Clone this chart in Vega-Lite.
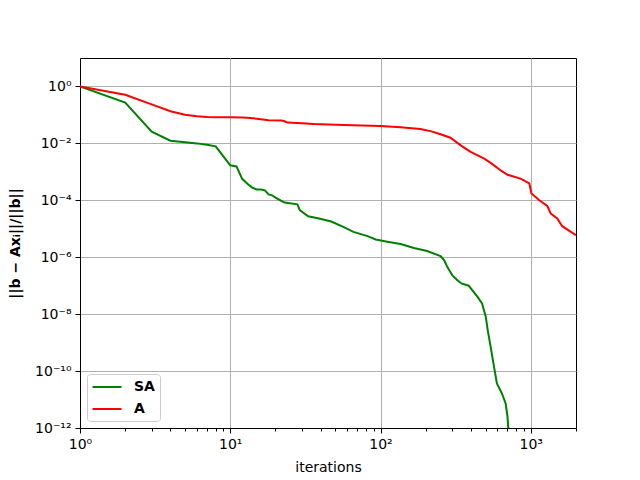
{
  "$schema": "https://vega.github.io/schema/vega-lite/v6.json",
  "width": 496,
  "height": 370,
  "autosize": {"type": "none"},
  "padding": {"left": 80, "top": 58, "right": 64, "bottom": 52},
  "background": "white",
  "config": {
    "font": "DejaVu Sans",
    "view": {"stroke": "black", "strokeWidth": 1},
    "axis": {
      "domainColor": "black",
      "tickColor": "black",
      "gridColor": "#b0b0b0",
      "gridWidth": 1,
      "labelFont": "DejaVu Sans",
      "labelFontSize": 14,
      "labelColor": "black",
      "titleFont": "DejaVu Sans",
      "titleFontSize": 14,
      "titleColor": "black",
      "titleFontWeight": "normal",
      "labelPadding": 4
    }
  },
  "data": {
    "values": [
      {"it": 1, "r": 1, "series": "SA"},
      {"it": 2, "r": 0.27, "series": "SA"},
      {"it": 3, "r": 0.026, "series": "SA"},
      {"it": 4, "r": 0.0124, "series": "SA"},
      {"it": 5, "r": 0.011, "series": "SA"},
      {"it": 6, "r": 0.01, "series": "SA"},
      {"it": 7, "r": 0.0089, "series": "SA"},
      {"it": 8, "r": 0.0079, "series": "SA"},
      {"it": 9, "r": 0.0035, "series": "SA"},
      {"it": 10, "r": 0.0017, "series": "SA"},
      {"it": 11, "r": 0.00155, "series": "SA"},
      {"it": 12, "r": 0.00057, "series": "SA"},
      {"it": 13, "r": 0.00038, "series": "SA"},
      {"it": 14, "r": 0.00028, "series": "SA"},
      {"it": 15, "r": 0.00024, "series": "SA"},
      {"it": 16, "r": 0.00024, "series": "SA"},
      {"it": 17, "r": 0.000224, "series": "SA"},
      {"it": 18, "r": 0.000162, "series": "SA"},
      {"it": 19, "r": 0.00015, "series": "SA"},
      {"it": 20, "r": 0.000124, "series": "SA"},
      {"it": 21, "r": 0.000107, "series": "SA"},
      {"it": 22, "r": 0.000093, "series": "SA"},
      {"it": 23, "r": 0.000083, "series": "SA"},
      {"it": 28, "r": 0.000072, "series": "SA"},
      {"it": 29, "r": 0.000045, "series": "SA"},
      {"it": 33, "r": 0.0000275, "series": "SA"},
      {"it": 39, "r": 0.000023, "series": "SA"},
      {"it": 47, "r": 0.000018, "series": "SA"},
      {"it": 57, "r": 0.0000115, "series": "SA"},
      {"it": 66, "r": 0.0000078, "series": "SA"},
      {"it": 82, "r": 0.0000055, "series": "SA"},
      {"it": 93, "r": 0.0000042, "series": "SA"},
      {"it": 111, "r": 0.0000035, "series": "SA"},
      {"it": 136, "r": 0.0000029, "series": "SA"},
      {"it": 167, "r": 0.0000021, "series": "SA"},
      {"it": 204, "r": 0.00000166, "series": "SA"},
      {"it": 251, "r": 0.0000011, "series": "SA"},
      {"it": 265, "r": 0.0000008, "series": "SA"},
      {"it": 278, "r": 0.00000046, "series": "SA"},
      {"it": 301, "r": 0.00000023, "series": "SA"},
      {"it": 325, "r": 0.000000155, "series": "SA"},
      {"it": 345, "r": 0.00000012, "series": "SA"},
      {"it": 386, "r": 0.0000001, "series": "SA"},
      {"it": 441, "r": 0.000000041, "series": "SA"},
      {"it": 474, "r": 0.000000024, "series": "SA"},
      {"it": 490, "r": 0.0000000126, "series": "SA"},
      {"it": 502, "r": 0.0000000081, "series": "SA"},
      {"it": 517, "r": 0.00000000275, "series": "SA"},
      {"it": 550, "r": 0.00000000042, "series": "SA"},
      {"it": 595, "r": 0.000000000037, "series": "SA"},
      {"it": 642, "r": 0.0000000000166, "series": "SA"},
      {"it": 681, "r": 0.0000000000071, "series": "SA"},
      {"it": 700, "r": 0.0000000000025, "series": "SA"},
      {"it": 708, "r": 0.0000000000011, "series": "SA"},
      {"it": 715, "r": 0.0000000000003, "series": "SA"},
      {"it": 1, "r": 1, "series": "A"},
      {"it": 2, "r": 0.51, "series": "A"},
      {"it": 3, "r": 0.234, "series": "A"},
      {"it": 4, "r": 0.135, "series": "A"},
      {"it": 5, "r": 0.102, "series": "A"},
      {"it": 6, "r": 0.089, "series": "A"},
      {"it": 7, "r": 0.085, "series": "A"},
      {"it": 8, "r": 0.083, "series": "A"},
      {"it": 10, "r": 0.083, "series": "A"},
      {"it": 12, "r": 0.081, "series": "A"},
      {"it": 13, "r": 0.079, "series": "A"},
      {"it": 15, "r": 0.074, "series": "A"},
      {"it": 18, "r": 0.065, "series": "A"},
      {"it": 22, "r": 0.064, "series": "A"},
      {"it": 23, "r": 0.06, "series": "A"},
      {"it": 24, "r": 0.054, "series": "A"},
      {"it": 30, "r": 0.051, "series": "A"},
      {"it": 36, "r": 0.048, "series": "A"},
      {"it": 57, "r": 0.044, "series": "A"},
      {"it": 100, "r": 0.041, "series": "A"},
      {"it": 136, "r": 0.037, "series": "A"},
      {"it": 184, "r": 0.032, "series": "A"},
      {"it": 215, "r": 0.027, "series": "A"},
      {"it": 251, "r": 0.021, "series": "A"},
      {"it": 292, "r": 0.0158, "series": "A"},
      {"it": 342, "r": 0.0085, "series": "A"},
      {"it": 398, "r": 0.005, "series": "A"},
      {"it": 490, "r": 0.0029, "series": "A"},
      {"it": 550, "r": 0.00195, "series": "A"},
      {"it": 631, "r": 0.00112, "series": "A"},
      {"it": 700, "r": 0.00079, "series": "A"},
      {"it": 855, "r": 0.00058, "series": "A"},
      {"it": 978, "r": 0.00039, "series": "A"},
      {"it": 1011, "r": 0.000174, "series": "A"},
      {"it": 1140, "r": 0.0001, "series": "A"},
      {"it": 1288, "r": 0.000063, "series": "A"},
      {"it": 1360, "r": 0.000034, "series": "A"},
      {"it": 1500, "r": 0.000023, "series": "A"},
      {"it": 1620, "r": 0.0000123, "series": "A"},
      {"it": 1850, "r": 0.0000078, "series": "A"},
      {"it": 2000, "r": 0.0000059, "series": "A"}
    ]
  },
  "mark": {"type": "line", "strokeWidth": 2, "clip": true},
  "encoding": {
    "x": {
      "field": "it",
      "type": "quantitative",
      "scale": {"type": "log", "domain": [1, 2000], "nice": false},
      "axis": {
        "title": "iterations",
        "titleY": 32,
        "titleBaseline": "top",
        "values": [1, 2, 3, 4, 5, 6, 7, 8, 9, 10, 20, 30, 40, 50, 60, 70, 80, 90, 100, 200, 300, 400, 500, 600, 700, 800, 900, 1000, 2000],
        "labelExpr": "datum.value == 1 ? '10⁰' : datum.value == 10 ? '10¹' : datum.value == 100 ? '10²' : datum.value == 1000 ? '10³' : ''",
        "labelOverlap": false,
        "labelFlush": false,
        "tickSize": {"condition": {"test": "datum.value == 1 || datum.value == 10 || datum.value == 100 || datum.value == 1000", "value": 5}, "value": 3},
        "gridOpacity": {"condition": {"test": "datum.value == 1 || datum.value == 10 || datum.value == 100 || datum.value == 1000", "value": 1}, "value": 0}
      }
    },
    "y": {
      "field": "r",
      "type": "quantitative",
      "scale": {"type": "log", "domain": [1e-12, 10], "nice": false},
      "axis": {
        "title": "||b − Axᵢ||/||b||",
        "titleFontWeight": "bold",
        "titleX": -65,
        "titleY": 185,
        "titleAngle": -90,
        "titleAlign": "center",
        "titleBaseline": "middle",
        "values": [1e-12, 1e-10, 1e-8, 1e-6, 1e-4, 1e-2, 1],
        "labelExpr": "round(log(datum.value)/LN10) == 0 ? '10⁰' : round(log(datum.value)/LN10) == -2 ? '10⁻²' : round(log(datum.value)/LN10) == -4 ? '10⁻⁴' : round(log(datum.value)/LN10) == -6 ? '10⁻⁶' : round(log(datum.value)/LN10) == -8 ? '10⁻⁸' : round(log(datum.value)/LN10) == -10 ? '10⁻¹⁰' : round(log(datum.value)/LN10) == -12 ? '10⁻¹²' : ''",
        "labelOverlap": false,
        "labelFlush": false,
        "tickSize": 5
      }
    },
    "color": {
      "field": "series",
      "type": "nominal",
      "sort": ["SA", "A"],
      "scale": {"domain": ["SA", "A"], "range": ["green", "red"]},
      "legend": {
        "title": null,
        "orient": "none",
        "legendX": 7,
        "legendY": 316,
        "fillColor": "white",
        "strokeColor": "#cccccc",
        "cornerRadius": 3,
        "padding": 5,
        "labelFontSize": 14,
        "labelFontWeight": "bold",
        "labelColor": "black",
        "labelOffset": 19,
        "symbolType": "M-2.07,0H2.07",
        "symbolStrokeWidth": 2,
        "symbolSize": 196,
        "symbolOffset": 7,
        "rowPadding": 7
      }
    }
  }
}
